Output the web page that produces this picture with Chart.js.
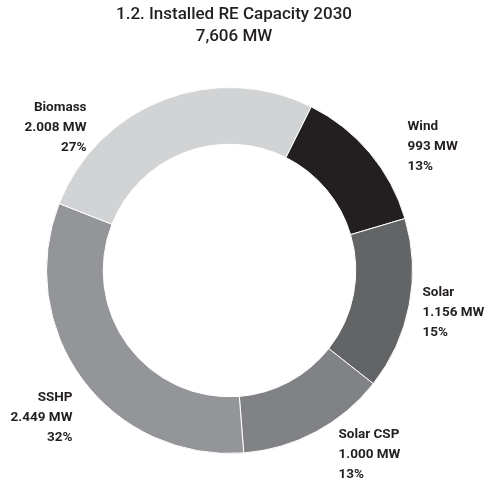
<!DOCTYPE html>
<html>
<head>
<meta charset="utf-8">
<script src="https://cdn.jsdelivr.net/npm/chart.js@4/dist/chart.umd.min.js"></script>
<style>
html,body{margin:0;padding:0;background:#fff;}
#wrap{position:relative;width:485px;height:484px;}
</style>
</head>
<body>
<div id="wrap"><canvas id="c" width="485" height="484"></canvas></div>
<script>
const titleLines = ["1.2. Installed RE Capacity 2030", "7,606 MW"];
const categories = ["Wind", "Solar", "Solar CSP", "SSHP", "Biomass"];
const capacityMW = [993, 1156, 1000, 2449, 2008];
const capacityText = ["993 MW", "1.156 MW", "1.000 MW", "2.449 MW", "2.008 MW"];
const shareText = ["13%", "15%", "13%", "32%", "27%"];
const colors = ["#231f20", "#636466", "#808285", "#939598", "#d1d3d4"];

// label anchor offsets from the doughnut centre (layout only) and text alignment
const labelLayout = [
  {dx: 178, dy: -144, align: "left"},
  {dx: 193, dy: 22, align: "left"},
  {dx: 109, dy: 164, align: "left"},
  {dx: -157, dy: 127, align: "right"},
  {dx: -143, dy: -163, align: "right"}
];

const labelPlugin = {
  id: "sliceLabels",
  afterDraw(chart) {
    const ctx = chart.ctx;
    const meta = chart.getDatasetMeta(0);
    const arc = meta.data[0];
    const cx = arc.x, cy = arc.y;
    ctx.save();
    ctx.fillStyle = "#231f20";
    ctx.textBaseline = "middle";
    ctx.font = "bold 13.5px Roboto";
    categories.forEach((name, i) => {
      const L = labelLayout[i];
      ctx.textAlign = L.align;
      const x = cx + L.dx, y = cy + L.dy;
      [name, capacityText[i], shareText[i]].forEach((t, k) => {
        ctx.fillText(t, x, y + k * 20);
      });
    });
    // title
    ctx.textAlign = "center";
    ctx.font = "500 17px Roboto";
    ctx.fillText(titleLines[0], 234, 15);
    ctx.fillText(titleLines[1], 234, 37);
    ctx.restore();
  }
};

new Chart(document.getElementById("c"), {
  type: "doughnut",
  data: {
    labels: categories,
    datasets: [{
      data: capacityMW,
      backgroundColor: colors,
      borderColor: "#ffffff",
      borderWidth: 1,
      hoverOffset: 0
    }]
  },
  options: {
    responsive: false,
    animation: false,
    rotation: 26.5,
    cutout: "69%",
    layout: {padding: {left: 46, right: 72, top: 87, bottom: 30}},
    plugins: {legend: {display: false}, tooltip: {enabled: false}, title: {display: false}}
  },
  plugins: [labelPlugin]
});
</script>
</body>
</html>
